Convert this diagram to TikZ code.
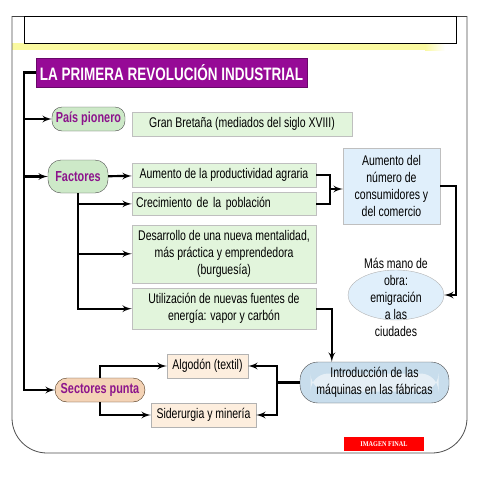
\documentclass[tikz,border=0pt]{standalone}
\usepackage{fontspec}
\setmainfont{Liberation Sans}[FakeStretch=0.75]
\newfontfamily\stampfont{Liberation Serif}[FakeStretch=0.85]
\usetikzlibrary{arrows,positioning,calc,shapes.geometric}
\definecolor{col1}{RGB}{226,245,220}
\definecolor{col2}{RGB}{224,239,251}
\definecolor{col3}{RGB}{253,238,222}
\definecolor{col4}{RGB}{244,211,182}
\definecolor{col5}{RGB}{205,233,200}
\definecolor{col6}{RGB}{200,221,236}
\definecolor{col7}{RGB}{150,10,150}
\definecolor{col8}{RGB}{140,20,140}
\definecolor{col9}{RGB}{250,249,160}
\tikzstyle{head}=[draw=col7!70!black, fill=col7, text=white, font=\bfseries\fontsize{18}{20}\selectfont, minimum width=271pt, minimum height=29pt, inner sep=0pt]
\tikzstyle{root}=[draw=black!70, fill=col5, text=col8, font=\bfseries\fontsize{14.5}{16}\selectfont, inner sep=0pt]
\tikzstyle{gbox}=[draw=black!25, fill=col1, align=center, minimum width=184pt, inner sep=0pt]
\tikzstyle{bbox}=[draw=black!25, fill=col2, align=center, inner sep=0pt]
\tikzstyle{pbox}=[draw=black!30, fill=col3, align=center, inner sep=0pt, minimum height=24pt]
\tikzstyle{line}=[line width=2.2pt]

\begin{document}
\begin{tikzpicture}[x=1pt,y=-1pt,>=latex',font=\fontsize{14}{17}\selectfont]
    \useasboundingbox (0,0) rectangle (480,480);
    % frame
    \fill[col9] (12,43) rectangle (425,50);
    \shade[left color=col9, right color=white] (425,43) rectangle (445,50);
    \draw[black!75, line width=0.8pt] (12,16) -- (467,16);
    \draw[black!70, line width=0.8pt, rounded corners=35pt] (12,16) -- (12,453) -- (467,453) -- (467,16);
    \draw[line width=0.9pt] (24,16) rectangle (456,43);
    % nodes
    \node[head] (t) at (171.5,72.5) {LA PRIMERA REVOLUCIÓN INDUSTRIAL};
    \node[root, minimum width=73pt, minimum height=24pt, rounded corners=10pt] (p) at (88.5,119) {País pionero};
    \node[gbox, minimum width=220pt, minimum height=24pt] (g) at (242,124) {Gran Bretaña (mediados del siglo XVIII)};
    \node[root, minimum width=60pt, minimum height=33pt, rounded corners=13pt] (f) at (78,176.5) {Factores};
    \node[gbox, minimum height=24pt] (a1) at (224,175) {Aumento de la productividad agraria};
    \node[gbox, minimum height=23pt, text width=176pt, align=left, below=5pt of a1] (a2) {Crecimiento de la población};
    \node[gbox, minimum height=58pt, below=9pt of a2] (a3) {Desarrollo de una nueva mentalidad,\\más práctica y emprendedora\\(burguesía)};
    \node[gbox, minimum height=41pt, below=5pt of a3] (a4) {Utilización de nuevas fuentes de\\energía: vapor y carbón};
    \node[bbox, minimum width=97pt, minimum height=76pt] (c) at (391.5,186) {Aumento del\\número de\\consumidores y\\del comercio};
    \node[ellipse, draw=black!30, fill=col2, minimum width=96pt, minimum height=50pt, inner sep=0pt] (m) at (396,295) {};
    \node[align=center, inner sep=0pt] (mt) at (396,297) {Más mano de\\obra:\\emigración\\a las\\ciudades};
    \node[draw=black!70, fill=col6, rounded corners=18pt, minimum width=149pt, minimum height=41pt, inner sep=0pt, align=center,
          path picture={\fill[white, opacity=.55] ([xshift=-64pt,yshift=-9pt]path picture bounding box.center) rectangle ([xshift=64pt,yshift=9pt]path picture bounding box.center);}]
          (i) at (374.5,382.5) {Introducción de las\\máquinas en las fábricas};
    \node[root, fill=col4, draw=black!60!brown, minimum width=90pt, minimum height=24pt, rounded corners=12pt] (s) at (100,390) {Sectores punta};
    \node[pbox, minimum width=81pt] (s1) at (207.5,366) {Algodón (textil)};
    \node[pbox, minimum width=105pt] (s2) at (203.5,415) {Siderurgia y minería};
    \node[fill=red, text=white, font=\stampfont\bfseries\fontsize{7.3}{8}\selectfont, minimum width=80pt, minimum height=14pt, inner sep=0pt] (fin) at (384,444) {IMAGEN FINAL};
    % connectors
    \coordinate (sp) at (24,72.5);
    \coordinate (br) at (330,189);
    \draw[line,->] (t.west) -- (sp) |- (p.west);
    \draw[line,->] (sp) |- (f.west);
    \draw[line,->] (sp) |- (s.west);
    \draw[line,->] (f) -- (a1);
    \draw[line,->] (f.south) |- (a2.west);
    \draw[line,->] (f.south) |- (a3.west);
    \draw[line,->] (f.south) |- (a4.west);
    \draw[line] (a1.east) -| (br) |- (a2.east);
    \draw[line,->] (br) -- (br -| c.west);
    \draw[line,->] (c.east) -- ++(16,0) |- (m.east);
    \draw[line,->] (a4.east) -| ($(i.north west)+(32,0)$);
    \draw[line,->] (i.west) -- ++(-23,0) |- (s1.east);
    \draw[line,->] (i.west) -- ++(-23,0) |- (s2.east);
    \draw[line,->] (s.north) |- (s1.west);
    \draw[line,->] (s.south) |- (s2.west);
\end{tikzpicture}
\end{document}
